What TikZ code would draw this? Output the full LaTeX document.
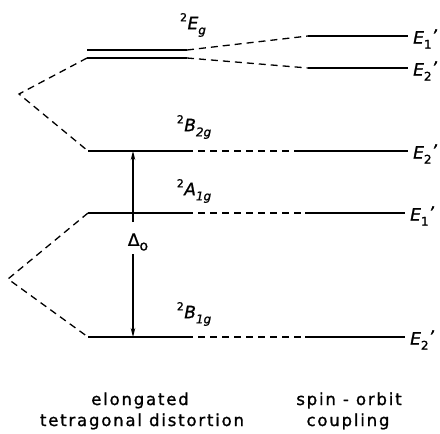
\documentclass[tikz,border=0pt]{standalone}
\usepackage{fontspec}
\setmainfont{DejaVu Sans}[FakeBold=1.2]
\newfontfamily\capfont{DejaVu Sans}[FakeBold=1.2, LetterSpace=11]
\usetikzlibrary{arrows.meta}
% term symbol: ^{sup}Letter_{sub}
\newcommand\termsym[3]{\raisebox{0.85ex}{\fontsize{11}{11}\selectfont #1}\kern0.5pt\textit{#2}\raisebox{-0.55ex}{\fontsize{12}{12}\selectfont\itshape #3}}
% primed double-group label: Letter_{sub}'
\newcommand\primed[2]{\textit{#1}\raisebox{-0.55ex}{\fontsize{12}{12}\selectfont #2}\raisebox{0.2ex}{\textit{'}}}
\begin{document}
\begin{tikzpicture}[x=1pt,y=-1pt,
  level/.style={line width=1.6pt},
  link/.style={line width=1.3pt, dash pattern=on 7pt off 5pt},
  term/.style={font=\fontsize{17}{17}\selectfont, inner sep=0pt},
  caption/.style={font=\capfont\fontsize{16.5}{20}\selectfont, inner sep=0pt, anchor=base},
  gap/.style={line width=1.2pt, -{Stealth[length=9pt,width=4.5pt]}}]
\useasboundingbox (0,0) rectangle (440,434);

% ---- left column: tetragonal levels
\coordinate (vt) at (19,94);
\coordinate (vb) at (8,279);
\coordinate (Ea1) at (87,50);  \coordinate (Ea2) at (187,50);
\coordinate (Eb1) at (87,58);  \coordinate (Eb2) at (187,58);
\coordinate (Bt1) at (88,151); \coordinate (Bt2) at (186,151);
\coordinate (A1) at (88,213);  \coordinate (A2) at (186,213);
\coordinate (Bb1) at (88,337); \coordinate (Bb2) at (186,337);
\draw[level] (Ea1) -- (Ea2);
\draw[level] (Eb1) -- (Eb2);
\draw[level] (Bt1) -- (Bt2);
\draw[level] (A1) -- (A2);
\draw[level] (Bb1) -- (Bb2);

% parent splittings
\draw[link] (Eb1) -- (vt) -- (Bt1);
\draw[link] (A1) -- (vb) -- (Bb1);

% ---- right column: spin-orbit levels
\coordinate (R1a) at (308,36);  \coordinate (R1b) at (408,36);
\coordinate (R2a) at (308,68);  \coordinate (R2b) at (408,68);
\coordinate (R3a) at (298,151); \coordinate (R3b) at (408,151);
\coordinate (R4a) at (305,213); \coordinate (R4b) at (405,213);
\coordinate (R5a) at (305,337); \coordinate (R5b) at (405,337);
\draw[level] (R1a) -- (R1b);
\draw[level] (R2a) -- (R2b);
\draw[level] (R3a) -- (R3b);
\draw[level] (R4a) -- (R4b);
\draw[level] (R5a) -- (R5b);

% correlation lines
\draw[link] (Ea2) -- (R1a);
\draw[link] (Eb2) -- (R2a);
\draw[link] (Bt2) -- (R3a);
\draw[link] (A2) -- (R4a);
\draw[link] (Bb2) -- (R5a);

% ---- term labels
\node[term] (tEg)  at (193,25)  {\termsym{2}{E}{g}};
\node[term] (tB2g) at (194,127) {\termsym{2}{B}{2g}};
\node[term] (tA1g) at (194,191) {\termsym{2}{A}{1g}};
\node[term] (tB1g) at (194,314) {\termsym{2}{B}{1g}};

\node[term, anchor=west] (r1) at (413,39)  {\primed{E}{1}};
\node[term, anchor=west] (r2) at (413,71)  {\primed{E}{2}};
\node[term, anchor=west] (r3) at (413,154) {\primed{E}{2}};
\node[term, anchor=west] (r4) at (410,216) {\primed{E}{1}};
\node[term, anchor=west] (r5) at (410,340) {\primed{E}{2}};

% ---- splitting energy
\node[term] (dq) at (138,242) {Δ\raisebox{-0.5ex}{\fontsize{14}{14}\selectfont o}};
\coordinate (ua) at (133,222);
\coordinate (db) at (133,254);
\draw[gap] (ua) -- (Bt1 -| ua);
\draw[gap] (db) -- (Bb1 -| db);

% ---- captions
\node[caption] (c1a) at (140,405) {elongated};
\node[caption] (c1b) at (142,426) {tetragonal distortion};
\node[caption] (c2a) at (349,405) {spin - orbit};
\node[caption] (c2b) at (348,426) {coupling};
\end{tikzpicture}
\end{document}
